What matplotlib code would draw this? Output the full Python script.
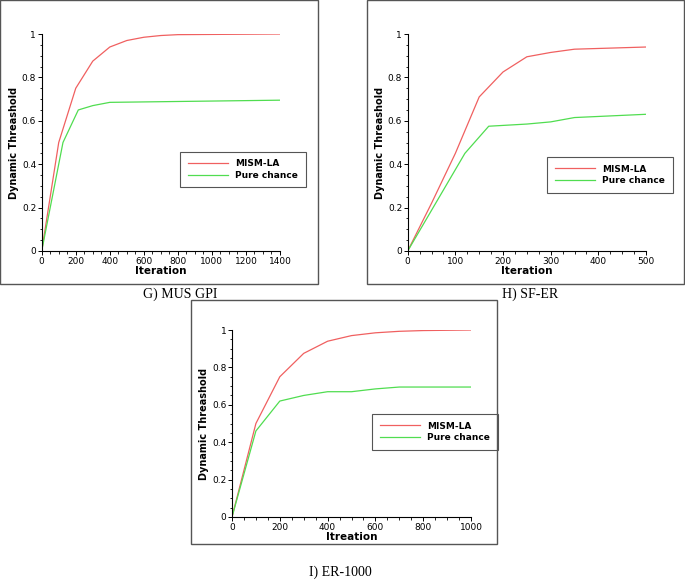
import matplotlib
matplotlib.use("Agg")
import matplotlib.pyplot as plt
import matplotlib.ticker as mticker
from matplotlib.patches import Rectangle

W, H = 685, 581

# --- data ---
g_mism_x = [0, 100, 200, 300, 400, 500, 600, 700, 800, 1400]
g_mism_y = [0, 0.50, 0.75, 0.875, 0.94, 0.97, 0.985, 0.993, 0.997, 1.0]
g_pure_x = [0, 125, 215, 300, 400, 1400]
g_pure_y = [0, 0.50, 0.65, 0.67, 0.685, 0.695]

h_mism_x = [0, 50, 100, 150, 200, 250, 300, 350, 500]
h_mism_y = [0, 0.22, 0.45, 0.71, 0.825, 0.895, 0.915, 0.93, 0.94]
h_pure_x = [0, 120, 170, 250, 300, 350, 500]
h_pure_y = [0, 0.45, 0.575, 0.585, 0.595, 0.615, 0.63]

i_mism_x = [0, 100, 200, 300, 400, 500, 600, 700, 800, 1000]
i_mism_y = [0, 0.50, 0.75, 0.875, 0.94, 0.97, 0.985, 0.993, 0.997, 1.0]
i_pure_x = [0, 100, 200, 300, 400, 500, 600, 700, 1000]
i_pure_y = [0, 0.46, 0.62, 0.65, 0.67, 0.67, 0.685, 0.695, 0.695]

series_labels = ["MISM-LA", "Pure chance"]
captions = ["G) MUS GPI", "H) SF-ER", "I) ER-1000"]
xlabels = ["Iteration", "Iteration", "Itreation"]

fig = plt.figure(figsize=(W / 100, H / 100), dpi=100)


def px_rect(x0, y0, x1, y1):
    return [x0 / W, 1 - y1 / H, (x1 - x0) / W, (y1 - y0) / H]


def panel(box, ax_px, leg_px, xmax, xstep, xminor, mx, my, px, py, xlabel, caption, cap_pos):
    x0, y0, x1, y1 = box
    fig.patches.append(Rectangle((x0 / W, 1 - y1 / H), (x1 - x0) / W, (y1 - y0) / H,
                                 transform=fig.transFigure, fill=False, ec="#555555", lw=1))
    ax = fig.add_axes(px_rect(*ax_px))
    ax.plot(mx, my, color="#f06060", lw=0.9, label=series_labels[0])
    ax.plot(px, py, color="#50dd50", lw=0.9, label=series_labels[1])
    ax.set_xlim(0, xmax)
    ax.set_ylim(0, 1)
    ax.xaxis.set_major_locator(mticker.MultipleLocator(xstep))
    ax.xaxis.set_minor_locator(mticker.MultipleLocator(xminor))
    ax.yaxis.set_major_locator(mticker.MultipleLocator(0.2))
    ax.yaxis.set_minor_locator(mticker.MultipleLocator(0.05))
    ax.yaxis.set_major_formatter(mticker.FuncFormatter(lambda v, p: "%g" % round(v, 2)))
    for s in ("top", "right"):
        ax.spines[s].set_visible(False)
    ax.tick_params(labelsize=6.5, length=3, width=0.7, pad=1)
    ax.tick_params(which="minor", length=1.8, width=0.6)
    ax.set_xlabel(xlabel, fontsize=7.5, fontweight="bold", labelpad=0)
    ax.set_ylabel("Dynamic Threashold", fontsize=7, fontweight="bold", labelpad=2)
    ax.patch.set_alpha(0)
    lx0, ly0, lx1, ly1 = leg_px
    leg = ax.legend(loc="center", bbox_to_anchor=((lx0 + lx1) / 2 / W, 1 - (ly0 + ly1) / 2 / H),
                    bbox_transform=fig.transFigure, fontsize=6.5, prop={"weight": "bold", "size": 6.5},
                    fancybox=False, framealpha=1, edgecolor="#555555", handlelength=4.5,
                    borderpad=0.8, labelspacing=0.3)
    leg.get_frame().set_linewidth(0.8)
    fig.text(cap_pos[0] / W, 1 - cap_pos[1] / H, caption, ha="center", va="center",
             fontsize=10, family="Liberation Serif")


panel((0, 0, 318, 284), (41.7, 34, 280, 251), (186, 149, 300, 190), 1400, 200, 50,
      g_mism_x, g_mism_y, g_pure_x, g_pure_y, xlabels[0], captions[0], (180, 294))
panel((367, 0, 684, 284), (407.7, 34, 646, 251), (552, 155, 668, 195), 500, 100, 25,
      h_mism_x, h_mism_y, h_pure_x, h_pure_y, xlabels[1], captions[1], (530, 294))
panel((191, 300, 497, 544), (232, 330, 471, 517), (378, 415, 492, 449), 1000, 200, 50,
      i_mism_x, i_mism_y, i_pure_x, i_pure_y, xlabels[2], captions[2], (340, 572))

fig.savefig("out.png", dpi=100)
